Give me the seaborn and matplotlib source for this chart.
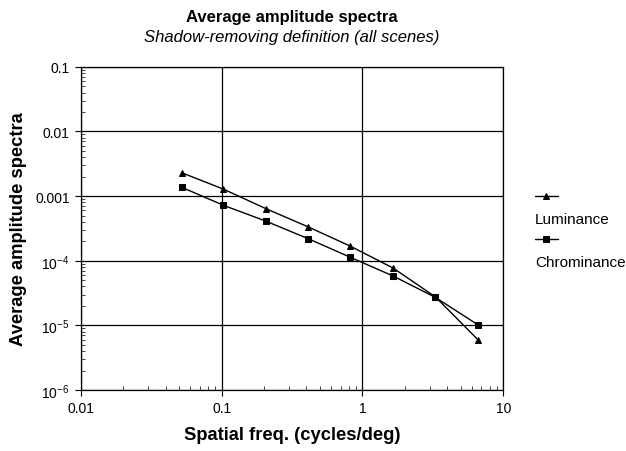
import numpy as np
import pandas as pd
import matplotlib
matplotlib.use("Agg")
import matplotlib.pyplot as plt
import seaborn as sns
from matplotlib.ticker import LogLocator, FixedLocator, FixedFormatter, NullFormatter

# values
freq = [0.052, 0.103, 0.206, 0.41, 0.82, 1.65, 3.3, 6.6]
luminance = [2.3e-3, 1.28e-3, 6.4e-4, 3.35e-4, 1.68e-4, 7.7e-5, 2.75e-5, 6.0e-6]
chrominance = [1.37e-3, 7.2e-4, 4.1e-4, 2.2e-4, 1.13e-4, 5.8e-5, 2.7e-5, 1.02e-5]

x_ticks = [0.01, 0.1, 1, 10]
x_labels = ['0.01', '0.1', '1', '10']
y_ticks = [1e-6, 1e-5, 1e-4, 1e-3, 1e-2, 1e-1]
y_labels = ['$\\mathregular{10^{-6}}$', '$\\mathregular{10^{-5}}$', '$\\mathregular{10^{-4}}$',
            '0.001', '0.01', '0.1']

df = pd.DataFrame({
    'freq': freq * 2,
    'amp': luminance + chrominance,
    'series': ['Luminance'] * len(freq) + ['Chrominance'] * len(freq),
})

sns.set_style('white')
plt.rcParams['font.family'] = ['Liberation Sans', 'DejaVu Sans']
plt.rcParams['mathtext.fontset'] = 'custom'
plt.rcParams['mathtext.rm'] = 'Liberation Sans'
plt.rcParams['text.color'] = 'black'
plt.rcParams['axes.labelcolor'] = 'black'

fig = plt.figure(figsize=(6.26, 4.52), dpi=100)
ax = fig.add_axes([0.129, 0.135, 0.675, 0.715])

sns.lineplot(data=df, x='freq', y='amp', hue='series', style='series',
             markers={'Luminance': '^', 'Chrominance': 's'}, dashes=False,
             palette={'Luminance': 'black', 'Chrominance': 'black'},
             markersize=5, linewidth=1, markeredgecolor='black', ax=ax)

ax.set_xscale('log')
ax.set_yscale('log')
ax.set_xlim(0.01, 10)
ax.set_ylim(1e-6, 0.1)

ax.xaxis.set_major_locator(FixedLocator(x_ticks))
ax.xaxis.set_major_formatter(FixedFormatter(x_labels))
ax.yaxis.set_major_locator(FixedLocator(y_ticks))
ax.yaxis.set_major_formatter(FixedFormatter(y_labels))
ax.xaxis.set_minor_locator(LogLocator(base=10, subs=np.arange(2, 10)))
ax.yaxis.set_minor_locator(LogLocator(base=10, subs=np.arange(2, 10)))
ax.xaxis.set_minor_formatter(NullFormatter())
ax.yaxis.set_minor_formatter(NullFormatter())

ax.tick_params(which='major', direction='out', length=4, width=0.8, labelsize=10,
               colors='black', pad=4)
ax.tick_params(which='minor', direction='in', length=3, width=0.6)
ax.tick_params(axis='x', which='both', bottom=True)
ax.tick_params(axis='y', which='both', left=True)

ax.grid(True, which='major', color='black', linewidth=0.9)
for s in ax.spines.values():
    s.set_color('black')
    s.set_linewidth(0.9)

ax.set_xlabel('Spatial freq. (cycles/deg)', fontsize=13.2, fontweight='bold', labelpad=8)
ax.set_ylabel('Average amplitude spectra', fontsize=13.2, fontweight='bold', labelpad=6)

fig.text(0.466, 0.962, 'Average amplitude spectra', ha='center', va='center',
         fontsize=12, fontweight='bold')
fig.text(0.466, 0.918, 'Shadow-removing definition (all scenes)', ha='center',
         va='center', fontsize=12, fontstyle='italic')

# legend: handle above its label
handles, labels = ax.get_legend_handles_labels()
hmap = dict(zip(labels, handles))
blank = plt.Line2D([], [], linestyle='none')
ax.legend([hmap['Luminance'], blank, hmap['Chrominance'], blank],
          ['', 'Luminance', '', 'Chrominance'],
          loc='center left', bbox_to_anchor=(1.06, 0.495), frameon=False,
          fontsize=11, handlelength=1.5, handletextpad=-1.5, labelspacing=0.5,
          borderaxespad=0)

fig.savefig('out.png', dpi=100)
